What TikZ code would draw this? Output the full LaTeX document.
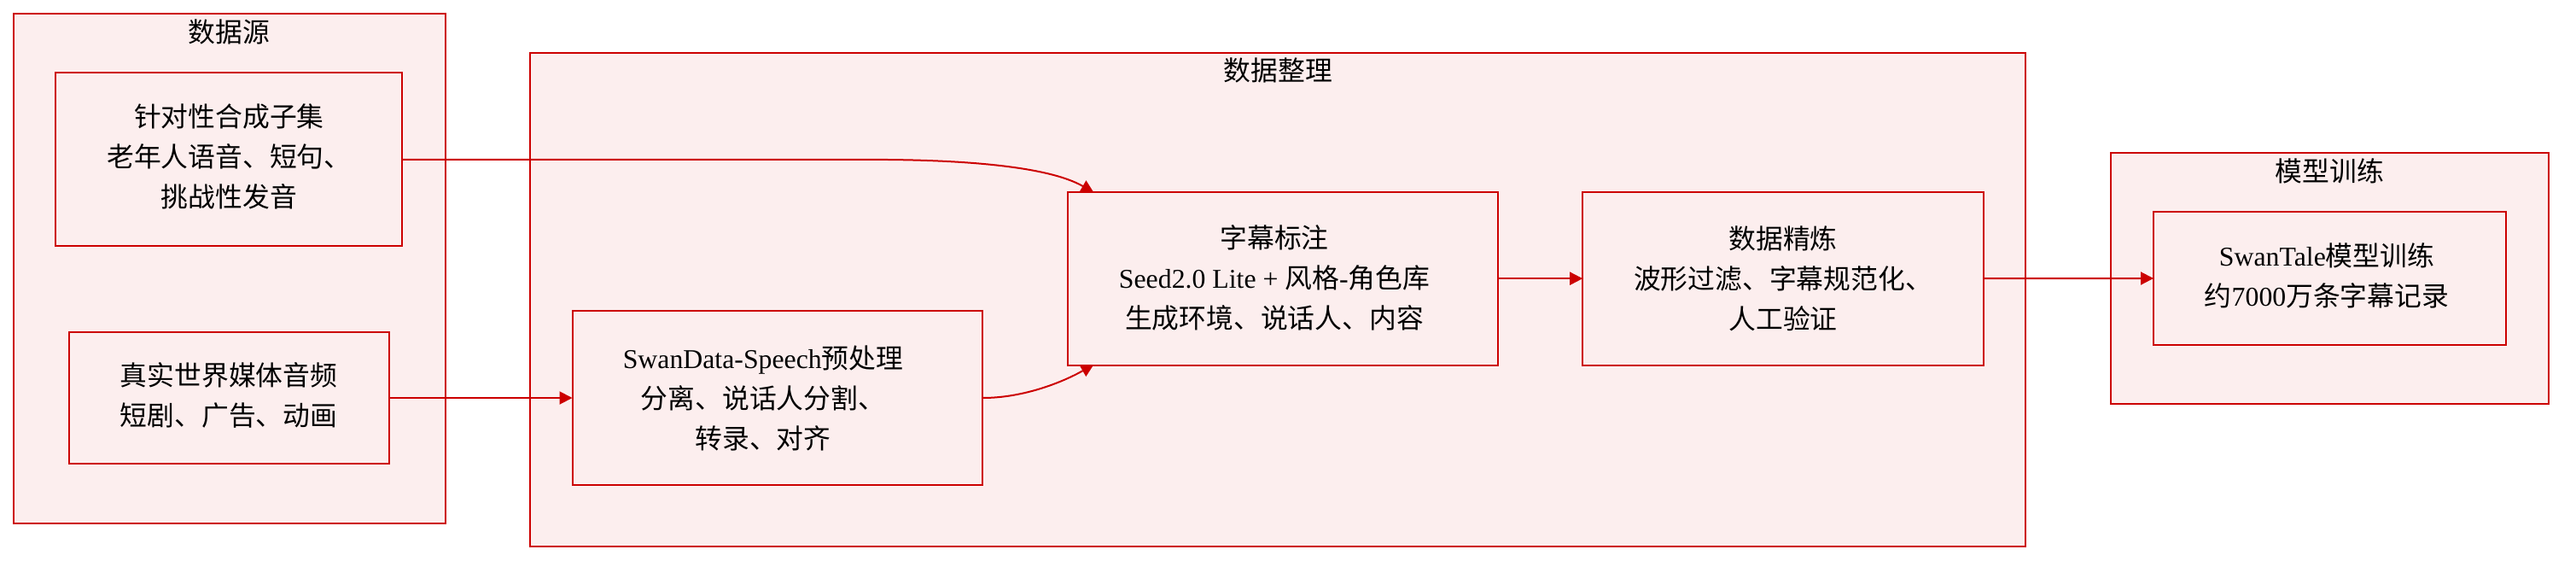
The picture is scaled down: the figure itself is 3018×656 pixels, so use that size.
\documentclass[tikz,border=0pt]{standalone}
\usepackage{fontspec}
\setmainfont{Liberation Serif}
\newfontfamily\cjk{Noto Sans CJK SC}
\usetikzlibrary{arrows.meta,calc}
\definecolor{edgered}{RGB}{204,0,0}
\definecolor{boxfill}{RGB}{252,238,238}
\pgfdeclarelayer{bg}
\pgfdeclarelayer{edges}
\pgfsetlayers{bg,edges,main}
\newcommand{\lat}[1]{{\rmfamily #1}}
\begin{document}
\begin{tikzpicture}[x=1pt,y=-1pt,
  cluster/.style={draw=edgered, fill=boxfill, line width=2pt, inner sep=0pt, outer sep=0pt},
  box/.style={draw=edgered, fill=boxfill, line width=2pt, inner sep=0pt, outer sep=0pt},
  txt/.style={align=center, font=\fontsize{31.8pt}{47pt}\selectfont\cjk, text=black, inner sep=0pt},
  ttl/.style={font=\fontsize{31.8pt}{40pt}\selectfont\cjk, text=black, inner sep=0pt},
  arr/.style={draw=edgered, line width=2pt, -{Triangle[length=15pt,width=15pt]}}]
\useasboundingbox (0,0) rectangle (3018,656);
% clusters
\begin{pgfonlayer}{bg}
\node[cluster, minimum width=506pt, minimum height=597pt] (c1) at (268.5,314) {};
\node[cluster, minimum width=1752.3pt, minimum height=578.5pt] (c2) at (1497.2,351) {};
\node[cluster, minimum width=512.6pt, minimum height=294.3pt] (c3) at (2729.3,326.2) {};
\end{pgfonlayer}
\node[ttl] (c1t) at (268.5,37.3) {数据源};
\node[ttl] (c2t) at (1497.2,82.8) {数据整理};
\node[ttl] (c3t) at (2729.3,200) {模型训练};
% nodes
\node[box, minimum width=405.8pt, minimum height=202.9pt] (n1) at (268.3,186.9) {};
\node[txt] (n1t) at (268.3,183.7) {针对性合成子集\\老年人语音、短句、\\挑战性发音};
\node[box, minimum width=374.5pt, minimum height=154.8pt] (n2) at (268.5,466) {};
\node[txt] (n2t) at (268,463) {真实世界媒体音频\\短剧、广告、动画};
\node[box, minimum width=480.8pt, minimum height=203.5pt] (n3) at (910.9,466) {};
\node[txt] (n3t) at (894,466.4) {\lat{SwanData-Speech}预处理\\分离、说话人分割、\\转录、对齐};
\node[box, minimum width=504.5pt, minimum height=203.3pt] (n4) at (1502.75,326.2) {};
\node[txt] (n4t) at (1493,325.8) {字幕标注\\\lat{Seed2.0 Lite + }风格\lat{-}角色库\\生成环境、说话人、内容};
\node[box, minimum width=469.8pt, minimum height=203.3pt] (n5) at (2089.1,326.2) {};
\node[txt] (n5t) at (2089,325.8) {数据精炼\\波形过滤、字幕规范化、\\人工验证};
\node[box, minimum width=413.2pt, minimum height=155.4pt] (n6) at (2729.6,326) {};
\node[txt] (n6t) at (2726,323.3) {\lat{SwanTale}模型训练\\约\lat{7000}万条字幕记录};
% edges
\begin{pgfonlayer}{edges}
\draw[arr] (n1.east) -- (1020,186.9) .. controls (1130,186.9) and (1229,195) .. ($(n4.north west)+(31,1)$);
\draw[arr] (n2.east) -- (n3.west);
\draw[arr] (n3.east) .. controls (1200,466) and (1246,447) .. ($(n4.south west)+(31,-1)$);
\draw[arr] (n4.east) -- (n5.west);
\draw[arr] (n5.east) -- (n6.west);
\end{pgfonlayer}
\end{tikzpicture}
\end{document}
